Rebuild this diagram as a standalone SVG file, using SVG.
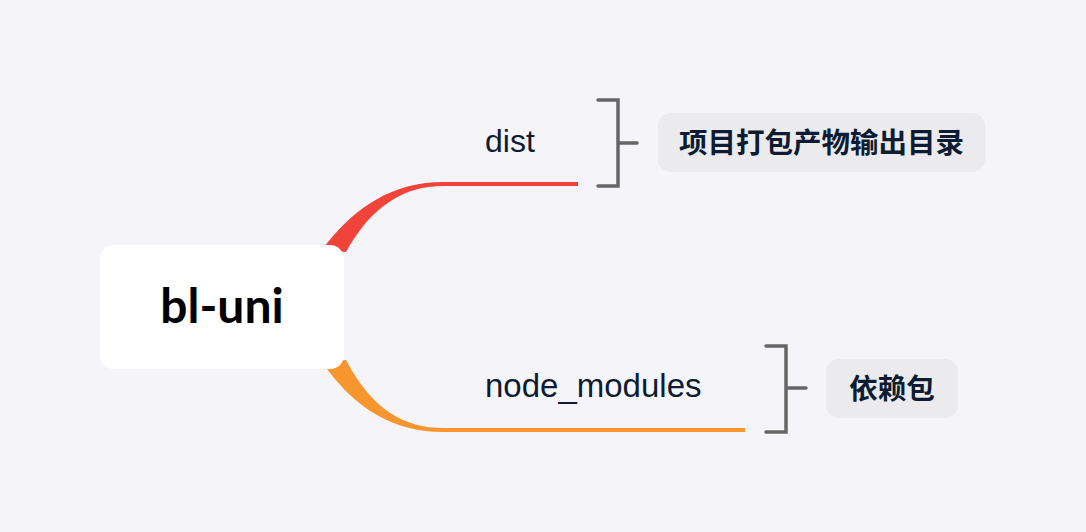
<svg xmlns="http://www.w3.org/2000/svg" width="1086" height="532" viewBox="0 0 1086 532">
<style>
.lbl{font-family:"Liberation Sans","Noto Sans CJK SC",sans-serif;fill:#0d1b33}
.cjk{font-family:"Noto Sans CJK SC",sans-serif;font-weight:bold;fill:#0d1b33}
.br{fill:none;stroke:#666666;stroke-width:3.5;stroke-linecap:round;stroke-linejoin:miter}
.note{fill:#ebebed}
</style>
<rect width="1086" height="532" fill="#f5f5f9"/>
<g id="connectors">
<path d="M 322,250 C 355,205 395,182 443,182 L 578,182 L 578,186 L 443,186 C 405,186 372,205 346,252 Z" fill="#f0443a"/>
<path d="M 322,362 C 355,410 395,432 443,432 L 745,432 L 745,428 L 443,428 C 405,428 372,410 346,360 Z" fill="#f7962f"/>
</g>
<g id="root">
<rect x="100" y="245" width="244" height="124" rx="14" fill="#ffffff"/>
<text x="222" y="323" text-anchor="middle" font-family="Lato,'Liberation Sans',sans-serif" font-weight="bold" font-size="48" fill="#000000">bl-uni</text>
</g>
<g id="dist">
<text class="lbl" x="485" y="152" font-size="32">dist</text>
</g>
<g id="node_modules">
<text class="lbl" x="485" y="397" font-size="33">node_modules</text>
</g>
<g id="dist-brace">
<path class="br" d="M 598,100 L 618,100 L 618,186 L 598,186 M 618,143 L 637,143"/>
</g>
<g id="dist-note">
<rect class="note" x="658" y="113" width="327" height="59" rx="13"/>
<text class="cjk" x="821.5" y="153" text-anchor="middle" font-size="28.5">项目打包产物输出目录</text>
</g>
<g id="nm-brace">
<path class="br" d="M 766,346 L 786,346 L 786,432 L 766,432 M 786,388 L 806,388"/>
</g>
<g id="nm-note">
<rect class="note" x="826" y="359" width="132" height="59" rx="13"/>
<text class="cjk" x="892" y="399" text-anchor="middle" font-size="28.5">依赖包</text>
</g>
</svg>
